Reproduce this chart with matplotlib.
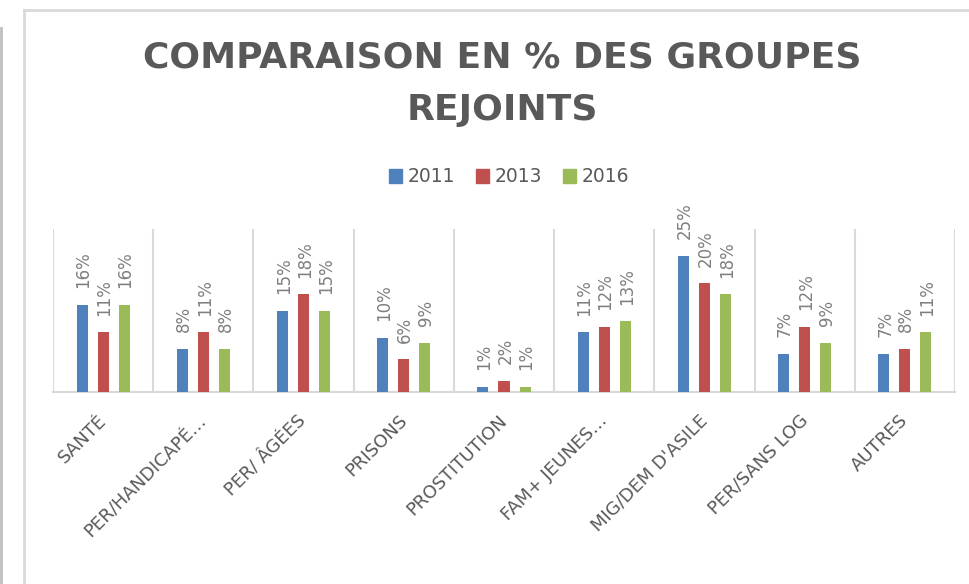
import matplotlib.pyplot as plt
import matplotlib.transforms as mtransforms
import numpy as np
from matplotlib.patches import Patch
from matplotlib.lines import Line2D

plt.rcParams['font.family'] = ['DejaVu Sans']

# data
categories = ['SANTÉ', 'PER/HANDICAPÉ…', 'PER/ ÂGÉES', 'PRISONS', 'PROSTITUTION',
              'FAM+ JEUNES…', "MIG/DEM D'ASILE", 'PER/SANS LOG', 'AUTRES']
years = ['2011', '2013', '2016']
v2011 = [16, 8, 15, 10, 1, 11, 25, 7, 7]
v2013 = [11, 11, 18, 6, 2, 12, 20, 12, 8]
v2016 = [16, 8, 15, 9, 1, 13, 18, 9, 11]
colors = ['#4F81BD', '#C0504D', '#9BBB59']

fig = plt.figure(figsize=(9.7, 5.84), dpi=100)
ax = fig.add_axes([53 / 970, 1 - 392 / 584, 902 / 970, 163 / 584])

x = np.arange(len(categories))
step, width = 0.21, 0.11
for i, vals in enumerate([v2011, v2013, v2016]):
    vals = np.array(vals) / 100
    bars = ax.bar(x + (i - 1) * step, vals, width, color=colors[i], zorder=3)
    for b, v in zip(bars, vals):
        ax.annotate('%d%%' % round(v * 100), (b.get_x() + b.get_width() / 2, v),
                    xytext=(1, 12), textcoords='offset points', rotation=90,
                    ha='center', va='bottom', fontsize=12, color='#7f7f7f',
                    annotation_clip=False)

ax.set_xlim(-0.5, len(categories) - 0.5)
ax.set_ylim(0, 0.30)
ax.set_yticks([])
for s in ['top', 'left', 'right']:
    ax.spines[s].set_visible(False)
ax.spines['bottom'].set_color('#d9d9d9')
ax.spines['bottom'].set_linewidth(1.5)
for b in np.arange(-0.5, len(categories), 1):
    ax.axvline(b, color='#d9d9d9', lw=1.5, zorder=1)

ax.set_xticks(x)
ax.set_xticklabels(categories, rotation=45, ha='right', rotation_mode='anchor',
                   fontsize=13, color='#595959')
ax.tick_params(axis='x', length=0, pad=14)
shift = mtransforms.ScaledTranslation(-6 / 100, 0, fig.dpi_scale_trans)
for lab in ax.get_xticklabels():
    lab.set_transform(lab.get_transform() + shift)

fig.text(502 / 970, 1 - 84 / 584, 'COMPARAISON EN % DES GROUPES\nREJOINTS',
         ha='center', va='center', fontsize=26, fontweight='bold',
         color='#595959', linespacing=1.7)

handles = [Patch(color=c) for c in colors]
fig.legend(handles, years, loc='center', bbox_to_anchor=(509 / 970, 1 - 177 / 584),
           ncol=3, frameon=False, fontsize=13.5, labelcolor='#595959',
           handlelength=0.7, handleheight=0.7, handletextpad=0.3, columnspacing=1.1)

# chart frame
fig.add_artist(Line2D([24 / 970, 24 / 970], [0, 1 - 10 / 584], color='#d9d9d9', lw=2))
fig.add_artist(Line2D([24 / 970, 1], [1 - 10 / 584, 1 - 10 / 584], color='#d9d9d9', lw=2))
fig.add_artist(Line2D([1.5 / 970, 1.5 / 970], [0, 1 - 28 / 584], color='#bfbfbf', lw=2))

fig.savefig('out.png', dpi=100)
